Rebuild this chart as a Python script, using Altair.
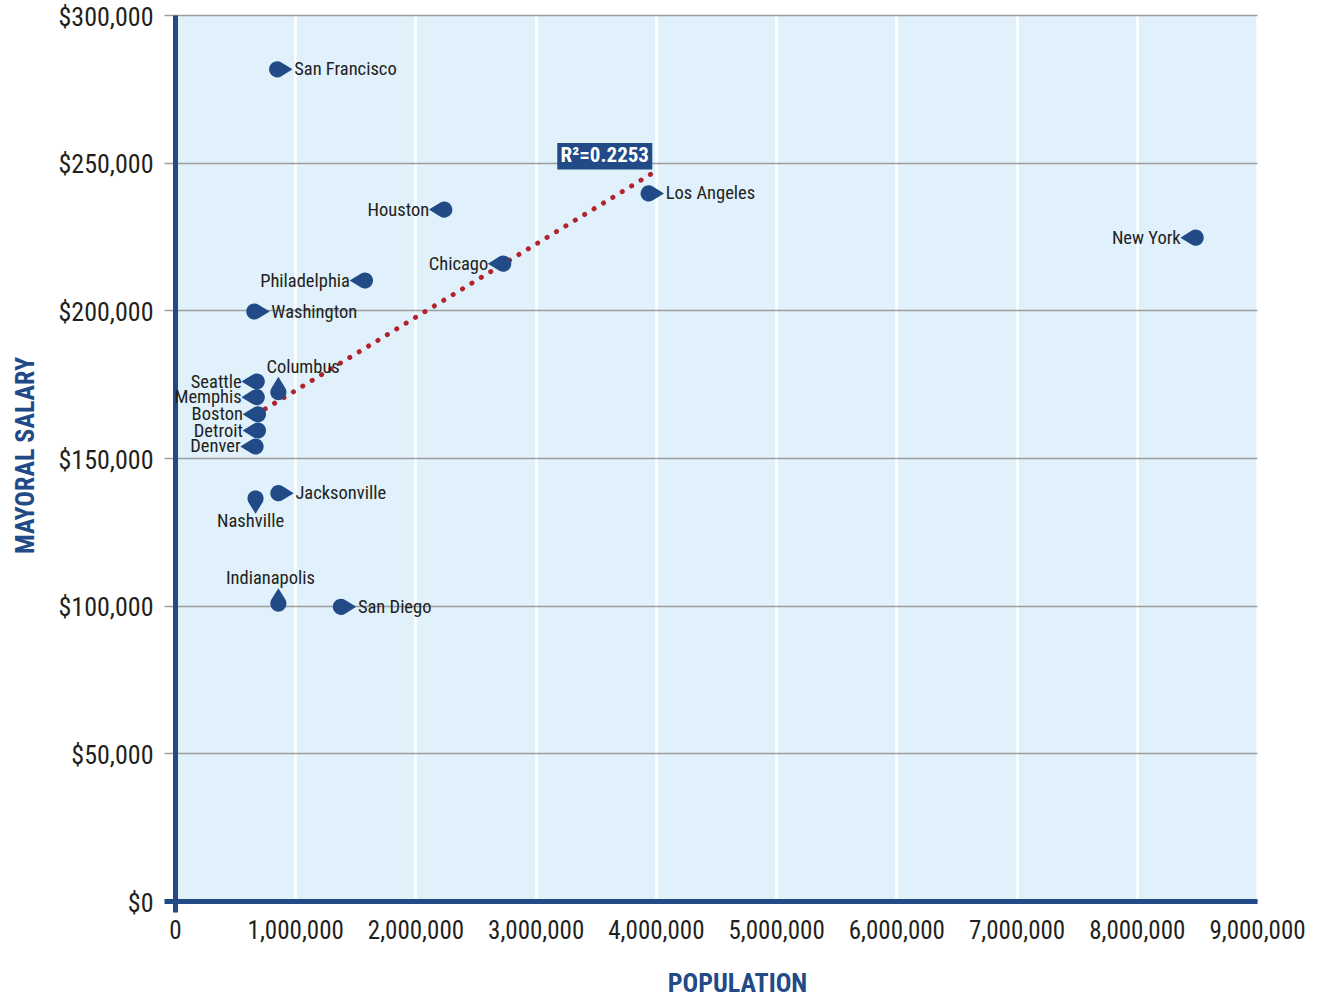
import altair as alt
import pandas as pd

# City populations, mayoral salaries and the side each label sits on
cities = ["San Francisco", "Houston", "Chicago", "Philadelphia", "Washington",
          "Los Angeles", "New York", "Seattle", "Memphis", "Boston", "Detroit",
          "Denver", "Columbus", "Nashville", "Jacksonville", "Indianapolis", "San Diego"]
population = [850000, 2240000, 2730000, 1580000, 660000,
              3940000, 8490000, 680000, 680000, 690000, 690000,
              670000, 860000, 670000, 860000, 860000, 1380000]
salary = [281600, 234100, 215800, 210100, 199600,
          239600, 224600, 175900, 170600, 164800, 159300,
          153900, 172300, 136300, 138100, 100700, 99600]
label_side = ["right", "left", "left", "left", "right",
              "right", "left", "left", "left", "left", "left",
              "left", "up-right", "down", "right", "up", "right"]

# Linear trend line end points and its fit statistic
trend_pop = [750000, 3970000]
trend_salary = [166600, 246400]
r_squared = "R²=0.2253"

x_ticks = [0, 1000000, 2000000, 3000000, 4000000, 5000000, 6000000, 7000000, 8000000, 9000000]
y_ticks = [0, 50000, 100000, 150000, 200000, 250000, 300000]

BLUE = "#214a87"
RED = "#b3232b"
INK = "#231f20"
FONT = "Roboto Condensed, Liberation Sans Narrow, DejaVu Sans Condensed, Roboto, sans-serif"

df = pd.DataFrame({"city": cities, "population": population,
                   "salary": salary, "side": label_side})
trend = pd.DataFrame({"population": trend_pop, "salary": trend_salary})
stat = pd.DataFrame({"population": trend_pop[-1:], "salary": trend_salary[-1:],
                     "label": [r_squared]})

# Teardrop symbols: unit circle with a tip pointing toward the label
UP = "M0,-1.9L0.85,-0.526A1,1,0,1,1,-0.85,-0.526Z"
DROPS = {
    "right": "M1.9,0L0.526,0.85A1,1,0,1,1,0.526,-0.85Z",
    "left": "M-1.9,0L-0.526,-0.85A1,1,0,1,1,-0.526,0.85Z",
    "up": UP,
    "up-right": UP,
    "down": "M0,1.9L-0.85,0.526A1,1,0,1,1,0.85,0.526Z",
}

x_scale = alt.Scale(domain=[0, 9000000], nice=False, zero=True)
y_scale = alt.Scale(domain=[0, 300000], nice=False, zero=True)

x_axis = alt.Axis(
    values=x_ticks, format=",.0f", title="POPULATION",
    labelFont=FONT, labelFontSize=25, labelColor=INK, labelPadding=6,
    labelFlush=False, labelOverlap=False,
    grid=True, gridColor="white", gridWidth=2.5,
    domainColor=BLUE, domainWidth=5,
    tickColor=alt.condition("datum.value == 0", alt.value(BLUE), alt.value("transparent")),
    tickWidth=5, tickSize=11,
    titleFont=FONT, titleFontSize=26, titleFontWeight="bold", titleColor=BLUE,
    titleX=562, titleY=82, titleAlign="center", titleBaseline="middle",
)
y_axis = alt.Axis(
    values=y_ticks, format="$,.0f", title="MAYORAL SALARY",
    labelFont=FONT, labelFontSize=26, labelColor=INK, labelPadding=11,
    labelFlush=False, labelOverlap=False, labelOffset=2,
    grid=True, gridColor="#9d9d9d", gridWidth=1.5,
    domainColor=BLUE, domainWidth=5,
    tickColor=alt.condition("datum.value == 0", alt.value(BLUE), alt.value("#9d9d9d")),
    tickWidth=alt.condition("datum.value == 0", alt.value(5), alt.value(1.5)),
    tickSize=11,
    titleFont=FONT, titleFontSize=26, titleFontWeight="bold", titleColor=BLUE,
    titleX=-150, titleY=440, titleAngle=270, titleAlign="center", titleBaseline="middle",
)

base = alt.Chart(df).encode(
    x=alt.X("population:Q", scale=x_scale, axis=x_axis),
    y=alt.Y("salary:Q", scale=y_scale, axis=y_axis),
)

trend_line = alt.Chart(trend).mark_line(
    color=RED, strokeWidth=5, strokeCap="round", strokeDash=[0.1, 10.9]
).encode(
    x=alt.X("population:Q", scale=x_scale),
    y=alt.Y("salary:Q", scale=y_scale),
)

markers = base.mark_point(filled=True, opacity=1, size=260, color=BLUE).encode(
    shape=alt.Shape("side:N", legend=None,
                    scale=alt.Scale(domain=list(DROPS.keys()), range=list(DROPS.values()))),
)

text_style = dict(font=FONT, fontSize=18.5, color=INK, baseline="middle")
labels_left = base.transform_filter("datum.side == 'left'").mark_text(
    align="right", dx=-15, **text_style).encode(text="city:N")
labels_right = base.transform_filter("datum.side == 'right'").mark_text(
    align="left", dx=17, **text_style).encode(text="city:N")
labels_up = base.transform_filter("datum.side == 'up'").mark_text(
    align="center", dx=-8, dy=-26, **text_style).encode(text="city:N")
labels_up_right = base.transform_filter("datum.side == 'up-right'").mark_text(
    align="left", dx=-12, dy=-25, **text_style).encode(text="city:N")
labels_down = base.transform_filter("datum.side == 'down'").mark_text(
    align="center", dx=-5, dy=23, **text_style).encode(text="city:N")

stat_box = alt.Chart(stat).mark_point(
    filled=True, opacity=1, color=BLUE, size=9025,
    shape="M-2,-0.64L0,-0.64L0,-0.08L-2,-0.08Z",
).encode(
    x=alt.X("population:Q", scale=x_scale),
    y=alt.Y("salary:Q", scale=y_scale),
)
stat_text = alt.Chart(stat).mark_text(
    font=FONT, fontSize=21, fontWeight="bold", color="white",
    align="center", baseline="middle", dx=-47.5, dy=-17,
).encode(
    x=alt.X("population:Q", scale=x_scale),
    y=alt.Y("salary:Q", scale=y_scale),
    text="label:N",
)

chart = alt.layer(
    trend_line, markers, labels_left, labels_right, labels_up, labels_up_right,
    labels_down, stat_box, stat_text,
).properties(
    width=1082, height=886,
    padding={"left": 175, "top": 15, "right": 68, "bottom": 97},
    autosize=alt.AutoSizeParams(type="none"),
    background="white",
).configure_view(fill="#e0f1fb", stroke=None)

chart.save("out.html", embed_options={"renderer": "svg", "actions": False})
